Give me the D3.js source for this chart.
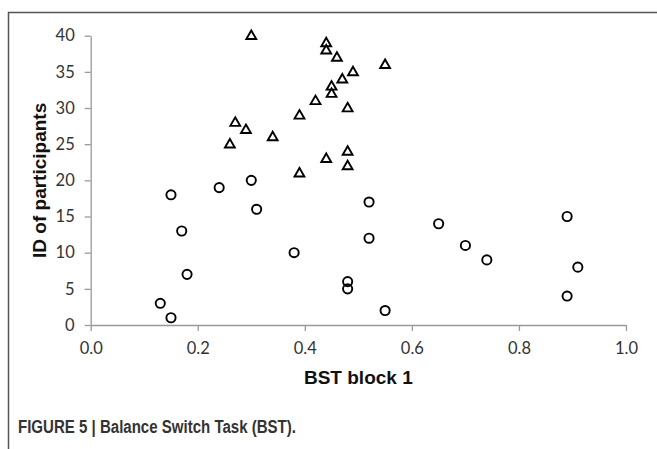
<!DOCTYPE html>
<html>
<head>
<meta charset="utf-8">
<script src="https://cdn.jsdelivr.net/npm/d3@7"></script>
<style>
  body { margin: 0; background: #fff; }
  svg { display: block; }
</style>
</head>
<body>
<script>
let w = 657;
let h = 449;

// BST block 1 score per participant (ID 1-20 circles, 21-40 triangles)
var circleIds = [1, 2, 3, 4, 5, 6, 7, 8, 9, 10, 11, 12, 13, 14, 15, 16, 17, 18, 19, 20];
var circleBst = [0.15, 0.55, 0.13, 0.89, 0.48, 0.48, 0.18, 0.91, 0.74, 0.38, 0.70, 0.52, 0.17, 0.65, 0.89, 0.31, 0.52, 0.15, 0.24, 0.30];
var triangleIds = [21, 22, 23, 24, 25, 26, 27, 28, 29, 30, 31, 32, 33, 34, 35, 36, 37, 38, 39, 40];
var triangleBst = [0.39, 0.48, 0.44, 0.48, 0.26, 0.34, 0.29, 0.27, 0.39, 0.48, 0.42, 0.45, 0.45, 0.47, 0.49, 0.55, 0.46, 0.44, 0.44, 0.30];

var xTicks = [0, 0.2, 0.4, 0.6, 0.8, 1.0];
var yTicks = [0, 5, 10, 15, 20, 25, 30, 35, 40];

let svg = d3.select("body").append("svg").attr("width", w).attr("height", h);

// frame (top and left only)
svg.append("path")
    .attr("d", "M8.5 " + h + " V12.5 H" + w)
    .attr("fill", "none")
    .attr("stroke", "#555")
    .attr("stroke-width", 1.5);

let xScale = d3.scaleLinear().domain([0, 1]).range([90.7, 626]);
let yScale = d3.scaleLinear().domain([0, 40]).range([325, 35.7]);

var xAxis = d3.axisBottom(xScale)
    .tickValues(xTicks)
    .tickFormat(d3.format(".1f"))
    .tickSizeInner(6)
    .tickSizeOuter(0)
    .tickPadding(11);

var yAxis = d3.axisLeft(yScale)
    .tickValues(yTicks)
    .tickSizeInner(6)
    .tickSizeOuter(0)
    .tickPadding(10);

function styleAxis(g) {
    g.selectAll("path, line")
        .attr("stroke", "#999")
        .attr("stroke-width", 1.3);
    g.selectAll("text")
        .attr("fill", "#333")
        .style("font-family", "Lato, 'Open Sans', sans-serif")
        .style("font-size", "16.5px");
}

svg.append("g")
    .attr("class", "axis")
    .attr("transform", "translate(0," + yScale(0) + ")")
    .call(xAxis)
    .call(styleAxis);

svg.append("g")
    .attr("class", "axis")
    .attr("transform", "translate(" + xScale(0) + ",0)")
    .call(yAxis)
    .call(styleAxis);

// axis titles
svg.append("text")
    .attr("x", (xScale(0) + xScale(1)) / 2)
    .attr("y", 384)
    .style("text-anchor", "middle")
    .style("font-family", "Arial, 'Liberation Sans', sans-serif")
    .style("font-weight", "bold")
    .style("font-size", "19px")
    .style("fill", "#111")
    .text("BST block 1");

svg.append("text")
    .attr("transform", "translate(46," + (yScale(0) + yScale(40)) / 2 + ") rotate(-90)")
    .style("text-anchor", "middle")
    .style("font-family", "Arial, 'Liberation Sans', sans-serif")
    .style("font-weight", "bold")
    .style("font-size", "19px")
    .style("fill", "#111")
    .text("ID of participants");

// caption (condensed face squeezed to the reference width)
svg.append("text")
    .attr("x", 18)
    .attr("y", 433)
    .attr("textLength", 278)
    .attr("lengthAdjust", "spacingAndGlyphs")
    .style("font-family", "Arial, 'Liberation Sans', sans-serif")
    .style("font-weight", "bold")
    .style("font-size", "17.5px")
    .style("fill", "#333")
    .text("FIGURE 5 | Balance Switch Task (BST).");

// points
var circles = circleIds.map(function(id, i) { return {id: id, bst: circleBst[i]}; });
var triangles = triangleIds.map(function(id, i) { return {id: id, bst: triangleBst[i]}; });

svg.selectAll("circle.pt")
    .data(circles)
    .enter()
    .append("circle")
    .attr("class", "pt")
    .attr("cx", function(d) { return xScale(d.bst); })
    .attr("cy", function(d) { return yScale(d.id); })
    .attr("r", 4.6)
    .attr("fill", "none")
    .attr("stroke", "#000")
    .attr("stroke-width", 1.9);

svg.selectAll("path.tri")
    .data(triangles)
    .enter()
    .append("path")
    .attr("class", "tri")
    .attr("d", d3.symbol(d3.symbolTriangle, 42))
    .attr("transform", function(d) {
        return "translate(" + xScale(d.bst) + "," + (yScale(d.id) + 0.5) + ")";
    })
    .attr("fill", "none")
    .attr("stroke", "#000")
    .attr("stroke-width", 1.9);
</script>
</body>
</html>
